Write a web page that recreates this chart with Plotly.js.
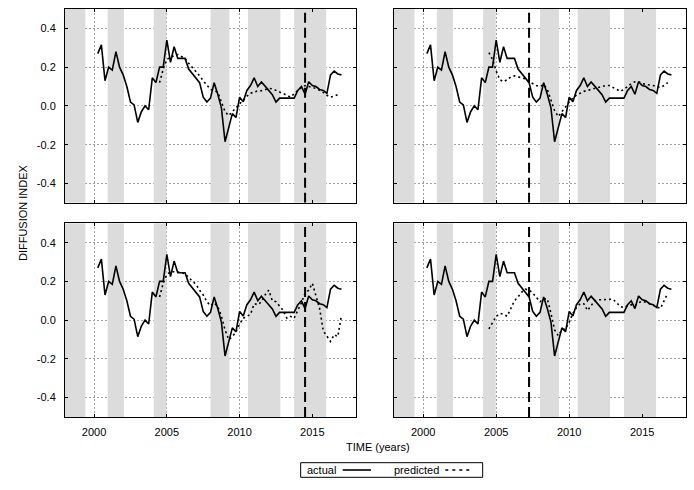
<!DOCTYPE html>
<html>
<head>
<meta charset="utf-8">
<script src="https://cdn.plot.ly/plotly-3.0.1.min.js"></script>
<style>html,body{margin:0;padding:0;background:#fff;}#chart{width:694px;height:490px;}</style>
</head>
<body>
<div id="chart"></div>
<script>
// ---- data ----
const quarters = [2000.25,2000.5,2000.75,
  2001.0,2001.25,2001.5,2001.75, 2002.0,2002.25,2002.5,2002.75,
  2003.0,2003.25,2003.5,2003.75, 2004.0,2004.25,2004.5,2004.75,
  2005.0,2005.25,2005.5,2005.75, 2006.0,2006.25,2006.5,2006.75,
  2007.0,2007.25,2007.5,2007.75, 2008.0,2008.25,2008.5,2008.75,
  2009.0,2009.25,2009.5,2009.75, 2010.0,2010.25,2010.5,2010.75,
  2011.0,2011.25,2011.5,2011.75, 2012.0,2012.25,2012.5,2012.75,
  2013.0,2013.25,2013.5,2013.75, 2014.0,2014.25,2014.5,2014.75,
  2015.0,2015.25,2015.5,2015.75, 2016.0,2016.25,2016.5,2016.75,
  2017.0];
const actual = [0.27,0.315,0.13,
  0.20,0.185,0.28,0.20, 0.16,0.10,0.02,0.005,
  -0.085,-0.03,0.0,-0.02, 0.145,0.12,0.20,0.20,
  0.34,0.225,0.305,0.245, 0.245,0.245,0.19,0.165,
  0.145,0.12,0.045,0.02, 0.04,0.12,0.06,-0.01,
  -0.185,-0.115,-0.04,-0.06, 0.045,0.022,0.08,0.105,
  0.145,0.10,0.123,0.102, 0.082,0.058,0.02,0.04,
  0.04,0.04,0.04,0.04, 0.08,0.10,0.06,0.125,
  0.105,0.10,0.085,0.08, 0.065,0.16,0.18,0.165,
  0.16];

const predQuarters = [2004.5,2004.75,
  2005.0,2005.25,2005.5,2005.75, 2006.0,2006.25,2006.5,2006.75,
  2007.0,2007.25,2007.5,2007.75, 2008.0,2008.25,2008.5,2008.75,
  2009.0,2009.25,2009.5,2009.75, 2010.0,2010.25,2010.5,2010.75,
  2011.0,2011.25,2011.5,2011.75, 2012.0,2012.25,2012.5,2012.75,
  2013.0,2013.25,2013.5,2013.75, 2014.0,2014.25,2014.5,2014.75,
  2015.0,2015.25,2015.5,2015.75, 2016.0,2016.25,2016.5,2016.75,
  2017.0];
const predTopLeft = [0.12,0.19,
  0.24,0.25,0.26,0.265, 0.255,0.245,0.22,0.20,
  0.18,0.155,0.13,0.105, 0.085,0.08,0.07,0.02,
  -0.03,-0.05,-0.03,-0.005, 0.01,0.03,0.05,0.065,
  0.072,0.078,0.078,0.085, 0.09,0.088,0.08,0.075,
  0.065,0.055,0.045,0.065, 0.08,0.095,0.105,0.10,
  0.095,0.09,0.08,0.07, 0.055,0.045,0.05,0.058,
  null];
const predTopRight = [0.275,0.24,
  0.18,0.135,0.125,0.135, 0.15,0.155,0.15,0.145,
  0.14,0.125,0.115,0.105, 0.10,0.11,0.085,0.035,
  -0.025,-0.055,-0.03,0.0, 0.02,0.04,0.055,0.065,
  0.075,0.08,0.085,0.09, 0.095,0.10,0.105,0.105,
  0.095,0.085,0.075,0.085, 0.10,0.115,0.125,0.125,
  0.115,0.11,0.108,0.105, 0.098,0.095,0.105,0.12,
  null];
const predBottomLeft = [0.12,0.19,
  0.235,0.25,0.25,0.25, 0.245,0.24,0.22,0.20,
  0.185,0.155,0.13,0.095, 0.075,0.09,0.07,0.02,
  -0.05,-0.10,-0.085,-0.06, -0.02,0.01,0.02,0.03,
  0.085,0.08,0.095,0.13, 0.155,0.10,0.095,0.07,
  0.05,0.01,0.02,0.01, 0.05,0.09,0.14,0.155,
  0.19,0.13,0.06,-0.055, -0.08,-0.11,-0.075,-0.085,
  0.025];
const predBottomRight = [-0.045,-0.015,
  0.02,0.035,0.03,0.02, 0.06,0.10,0.12,0.145,
  0.16,0.155,0.14,0.115, 0.095,0.11,0.11,0.035,
  -0.05,-0.08,-0.05,-0.045, -0.01,0.035,0.065,0.085,
  0.085,0.05,0.075,0.10, 0.105,0.105,0.105,0.108,
  0.108,0.09,0.07,0.065, 0.075,0.08,0.075,0.09,
  0.097,0.093,0.085,0.075, 0.065,0.06,0.10,0.14,
  null];

const bands = [[1998,1999.4],[2000.93,2002.05],[2004.1,2004.97],[2008.0,2009.3],[2010.58,2012.8],[2013.75,2015.95]];
const breakYears = [2014.5, 2007.25, 2014.5, 2007.25];

const xTickVals = [2000,2005,2010,2015];
const xTickText = ["2000","2005","2010","2015"];
const yTickVals = [-0.4,-0.2,0,0.2,0.4];
const yTickText = ["-0.4","-0.2","0.0","0.2","0.4"];
const legendLabels = ["actual","predicted"];
const xRange = [1998, 2018];
const yRange = [-0.5, 0.5];

// ---- build ----
const panels = [
  {xa:'x',  ya:'y',  pred:predTopLeft},
  {xa:'x2', ya:'y2', pred:predTopRight},
  {xa:'x3', ya:'y3', pred:predBottomLeft},
  {xa:'x4', ya:'y4', pred:predBottomRight}
];

const traces = [];
panels.forEach(p => {
  traces.push({x:quarters, y:actual, xaxis:p.xa, yaxis:p.ya, type:'scatter', mode:'lines',
    line:{color:'#000', width:1.6}, name:legendLabels[0], showlegend:false, hoverinfo:'skip'});
  traces.push({x:predQuarters, y:p.pred, xaxis:p.xa, yaxis:p.ya, type:'scatter', mode:'lines',
    line:{color:'#000', width:1.6, dash:'2px,3px'}, name:legendLabels[1], showlegend:false, connectgaps:false, hoverinfo:'skip'});
});

const shapes = [];
panels.forEach((p, i) => {
  bands.forEach(b => {
    shapes.push({type:'rect', xref:p.xa, yref:p.ya, x0:b[0], x1:b[1], y0:yRange[0], y1:yRange[1],
      fillcolor:'#dcdcdc', line:{width:0}, layer:'between'});
  });
  shapes.push({type:'line', xref:p.xa, yref:p.ya, x0:breakYears[i], x1:breakYears[i], y0:yRange[0], y1:yRange[1],
    line:{color:'#000', width:2, dash:'10px,5px'}, layer:'above'});
});

// legend box (custom so that text precedes sample line)
shapes.push({type:'rect', xref:'paper', yref:'paper', x0:0.3795, x1:0.6726, y0:-0.1478, y1:-0.112,
  line:{color:'#000', width:1}, fillcolor:'rgba(0,0,0,0)'});
shapes.push({type:'line', xref:'paper', yref:'paper', x0:0.4472, x1:0.4928, y0:-0.1299, y1:-0.1299,
  line:{color:'#000', width:1.6}});
shapes.push({type:'line', xref:'paper', yref:'paper', x0:0.6124, x1:0.6575, y0:-0.1299, y1:-0.1299,
  line:{color:'#000', width:1.6, dash:'3px,4px'}});

const font = {family:'Liberation Sans, Arial, sans-serif', size:11, color:'#000'};

function xaxis(domain, anchor, labels) {
  return {domain:domain, anchor:anchor, range:xRange, tickmode:'array', tickvals:xTickVals, ticktext:xTickText,
    showticklabels:labels, ticks:'inside', ticklen:3, tickcolor:'#000', mirror:'ticks', showline:true,
    linecolor:'#000', linewidth:1, showgrid:true, gridcolor:'#a0a0a0', griddash:'2px,2px', gridwidth:1,
    zeroline:false, ticklabelstandoff:5, tickfont:font, fixedrange:true};
}
function yaxis(domain, anchor, labels) {
  return {domain:domain, anchor:anchor, range:yRange, tickmode:'array', tickvals:yTickVals, ticktext:yTickText,
    showticklabels:labels, ticks:'inside', ticklen:3, tickcolor:'#000', mirror:'ticks', showline:true,
    linecolor:'#000', linewidth:1, showgrid:true, gridcolor:'#a0a0a0', griddash:'2px,2px', gridwidth:1,
    zeroline:false, ticklabelstandoff:6, tickfont:font, fixedrange:true};
}

const leftDom = [0, 0.4686], rightDom = [0.5298, 1];
const topDom = [0.525, 1], botDom = [0, 0.4747];

const layout = {
  width:694, height:490,
  margin:{l:65, r:8, t:9, b:73, pad:0, autoexpand:false},
  paper_bgcolor:'#fff', plot_bgcolor:'#fff',
  font:font, showlegend:false,
  xaxis: xaxis(leftDom, 'y', false),
  xaxis2: xaxis(rightDom, 'y2', false),
  xaxis3: xaxis(leftDom, 'y3', true),
  xaxis4: xaxis(rightDom, 'y4', true),
  yaxis: yaxis(topDom, 'x', true),
  yaxis2: yaxis(topDom, 'x2', false),
  yaxis3: yaxis(botDom, 'x3', true),
  yaxis4: yaxis(botDom, 'x4', false),
  shapes: shapes,
  annotations: [
    {text:'DIFFUSION INDEX', xref:'paper', yref:'paper', x:-0.0676, y:0.5, textangle:-90,
      showarrow:false, xanchor:'center', yanchor:'middle', font:font},
    {text:'TIME (years)', xref:'paper', yref:'paper', x:0.5045, y:-0.0743,
      showarrow:false, xanchor:'center', yanchor:'middle', font:font},
    {text:legendLabels[0], xref:'paper', yref:'paper', x:0.4127, y:-0.1299,
      showarrow:false, xanchor:'center', yanchor:'middle', font:font},
    {text:legendLabels[1], xref:'paper', yref:'paper', x:0.5663, y:-0.1299,
      showarrow:false, xanchor:'center', yanchor:'middle', font:font}
  ]
};

Plotly.newPlot('chart', traces, layout, {staticPlot:true, displayModeBar:false});
</script>
</body>
</html>
